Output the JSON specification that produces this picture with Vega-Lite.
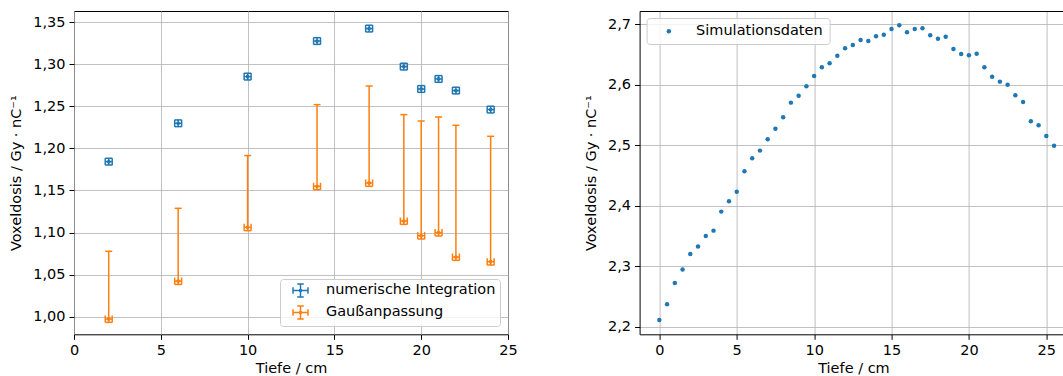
{
  "$schema": "https://vega.github.io/schema/vega-lite/v6.json",
  "background": "white",
  "padding": {"left": 8, "top": 10, "right": 0, "bottom": 0},
  "bounds": "flush",
  "spacing": 131.6,
  "resolve": {"scale": {"color": "independent"}, "legend": {"color": "independent"}},
  "config": {
    "font": "DejaVu Sans",
    "axis": {
      "labelFont": "DejaVu Sans", "titleFont": "DejaVu Sans",
      "labelFontSize": 14.5, "titleFontSize": 14.5,
      "labelColor": "#000", "titleColor": "#000", "titleFontWeight": "normal",
      "tickColor": "#000", "tickSize": 5, "tickWidth": 1, "labelPadding": 4,
      "gridColor": "#b0b0b0", "gridWidth": 0.8, "gridOpacity": 1,
      "domainColor": "#000", "domainWidth": 1, "labelFlush": false
    },
    "axisY": {"titlePadding": 9},
    "axisX": {"titlePadding": 5},
    "legend": {
      "labelFont": "DejaVu Sans", "labelFontSize": 14.5, "labelColor": "#000",
      "fillColor": "rgba(255,255,255,0.8)", "strokeColor": "#cccccc", "cornerRadius": 3,
      "padding": 6, "labelLimit": 400
    }
  },
  "hconcat": [
    {
      "width": 434,
      "height": 323.3,
      "view": {"stroke": "#000", "strokeWidth": 1},
      "data": {"values": [
        {"tiefe": 2, "reihe": "numerische Integration", "wert": 1.1843, "unten": 1.1803, "oben": 1.1883, "links": 1.8, "rechts": 2.2},
        {"tiefe": 6, "reihe": "numerische Integration", "wert": 1.2299, "unten": 1.2259, "oben": 1.2339, "links": 5.8, "rechts": 6.2},
        {"tiefe": 10, "reihe": "numerische Integration", "wert": 1.2854, "unten": 1.2814, "oben": 1.2894, "links": 9.8, "rechts": 10.2},
        {"tiefe": 14, "reihe": "numerische Integration", "wert": 1.3277, "unten": 1.3237, "oben": 1.3317, "links": 13.8, "rechts": 14.2},
        {"tiefe": 17, "reihe": "numerische Integration", "wert": 1.3425, "unten": 1.3385, "oben": 1.3465, "links": 16.8, "rechts": 17.2},
        {"tiefe": 19, "reihe": "numerische Integration", "wert": 1.2973, "unten": 1.2933, "oben": 1.3013, "links": 18.8, "rechts": 19.2},
        {"tiefe": 20, "reihe": "numerische Integration", "wert": 1.2707, "unten": 1.2667, "oben": 1.2747, "links": 19.8, "rechts": 20.2},
        {"tiefe": 21, "reihe": "numerische Integration", "wert": 1.2826, "unten": 1.2786, "oben": 1.2866, "links": 20.8, "rechts": 21.2},
        {"tiefe": 22, "reihe": "numerische Integration", "wert": 1.2688, "unten": 1.2648, "oben": 1.2728, "links": 21.8, "rechts": 22.2},
        {"tiefe": 24, "reihe": "numerische Integration", "wert": 1.2462, "unten": 1.2422, "oben": 1.2502, "links": 23.8, "rechts": 24.2},
        {"tiefe": 2, "reihe": "Gaußanpassung", "wert": 0.9972, "unten": 0.9932, "oben": 1.0777, "links": 1.8, "rechts": 2.2},
        {"tiefe": 6, "reihe": "Gaußanpassung", "wert": 1.0423, "unten": 1.0383, "oben": 1.1288, "links": 5.8, "rechts": 6.2},
        {"tiefe": 10, "reihe": "Gaußanpassung", "wert": 1.1062, "unten": 1.1022, "oben": 1.1915, "links": 9.8, "rechts": 10.2},
        {"tiefe": 14, "reihe": "Gaußanpassung", "wert": 1.155, "unten": 1.151, "oben": 1.2521, "links": 13.8, "rechts": 14.2},
        {"tiefe": 17, "reihe": "Gaußanpassung", "wert": 1.1589, "unten": 1.1549, "oben": 1.2742, "links": 16.8, "rechts": 17.2},
        {"tiefe": 19, "reihe": "Gaußanpassung", "wert": 1.1137, "unten": 1.1097, "oben": 1.2402, "links": 18.8, "rechts": 19.2},
        {"tiefe": 20, "reihe": "Gaußanpassung", "wert": 1.0963, "unten": 1.0923, "oben": 1.2326, "links": 19.8, "rechts": 20.2},
        {"tiefe": 21, "reihe": "Gaußanpassung", "wert": 1.0999, "unten": 1.0959, "oben": 1.2374, "links": 20.8, "rechts": 21.2},
        {"tiefe": 22, "reihe": "Gaußanpassung", "wert": 1.0709, "unten": 1.0669, "oben": 1.2275, "links": 21.8, "rechts": 22.2},
        {"tiefe": 24, "reihe": "Gaußanpassung", "wert": 1.0654, "unten": 1.0614, "oben": 1.2144, "links": 23.8, "rechts": 24.2}
      ]},
      "layer": [
        {
          "mark": {"type": "rule", "strokeWidth": 1.5},
          "encoding": {
            "x": {"field": "tiefe", "type": "quantitative", "title": "Tiefe / cm",
                  "scale": {"domain": [0, 25], "nice": false, "zero": false},
                  "axis": {"values": [0, 5, 10, 15, 20, 25], "grid": true, "domain": false}},
            "y": {"field": "unten", "type": "quantitative", "title": "Voxeldosis / Gy · nC⁻¹",
                  "scale": {"domain": [0.979, 1.3634], "nice": false, "zero": false},
                  "axis": {"values": [1.0, 1.05, 1.1, 1.15, 1.2, 1.25, 1.3, 1.35], "grid": true, "domain": false,
                           "labelExpr": "replace(format(datum.value, '.2f'), '.', ',')"}},
            "y2": {"field": "oben"},
            "color": {"field": "reihe", "type": "nominal",
                      "scale": {"domain": ["numerische Integration", "Gaußanpassung"], "range": ["#1f77b4", "#ff7f0e"]},
                      "legend": {"title": null, "orient": "bottom-right", "offset": 8, "padding": 4,
                                 "symbolType": "M-1.15,0H1.15M-1.15,-0.5V0.5M1.15,-0.5V0.5M0,-1V1M-0.5,-1H0.5M-0.5,1H0.5M-0.1,-0.1H0.1V0.1H-0.1Z",
                                 "symbolSize": 169, "symbolStrokeWidth": 1.5, "symbolFillColor": "transparent",
                                 "symbolOffset": 9, "labelOffset": 18, "rowPadding": 3}}
          }
        },
        {
          "mark": {"type": "rule", "strokeWidth": 1.5},
          "encoding": {
            "x": {"field": "links", "type": "quantitative", "title": "Tiefe / cm"},
            "x2": {"field": "rechts"},
            "y": {"field": "wert", "type": "quantitative", "title": "Voxeldosis / Gy · nC⁻¹"},
            "color": {"field": "reihe", "type": "nominal", "legend": null}
          }
        },
        {
          "mark": {"type": "tick", "orient": "horizontal", "size": 7, "thickness": 1.5, "opacity": 1},
          "encoding": {
            "x": {"field": "tiefe", "type": "quantitative", "title": "Tiefe / cm"},
            "y": {"field": "oben", "type": "quantitative", "title": "Voxeldosis / Gy · nC⁻¹"},
            "color": {"field": "reihe", "type": "nominal", "legend": null}
          }
        },
        {
          "mark": {"type": "tick", "orient": "horizontal", "size": 7, "thickness": 1.5, "opacity": 1},
          "encoding": {
            "x": {"field": "tiefe", "type": "quantitative", "title": "Tiefe / cm"},
            "y": {"field": "unten", "type": "quantitative", "title": "Voxeldosis / Gy · nC⁻¹"},
            "color": {"field": "reihe", "type": "nominal", "legend": null}
          }
        },
        {
          "mark": {"type": "tick", "orient": "vertical", "size": 7, "thickness": 1.5, "opacity": 1},
          "encoding": {
            "x": {"field": "links", "type": "quantitative", "title": "Tiefe / cm"},
            "y": {"field": "wert", "type": "quantitative", "title": "Voxeldosis / Gy · nC⁻¹"},
            "color": {"field": "reihe", "type": "nominal", "legend": null}
          }
        },
        {
          "mark": {"type": "tick", "orient": "vertical", "size": 7, "thickness": 1.5, "opacity": 1},
          "encoding": {
            "x": {"field": "rechts", "type": "quantitative", "title": "Tiefe / cm"},
            "y": {"field": "wert", "type": "quantitative", "title": "Voxeldosis / Gy · nC⁻¹"},
            "color": {"field": "reihe", "type": "nominal", "legend": null}
          }
        },
        {
          "mark": {"type": "point", "filled": true, "size": 14, "opacity": 1},
          "encoding": {
            "x": {"field": "tiefe", "type": "quantitative", "title": "Tiefe / cm"},
            "y": {"field": "wert", "type": "quantitative", "title": "Voxeldosis / Gy · nC⁻¹"},
            "color": {"field": "reihe", "type": "nominal", "legend": null}
          }
        }
      ]
    },
    {
      "width": 427.7,
      "height": 323.3,
      "view": {"stroke": null},
      "data": {"values": [
        {"tiefe": 0, "dosis": 2.2110}, {"tiefe": 0.5, "dosis": 2.2369}, {"tiefe": 1, "dosis": 2.2721},
        {"tiefe": 1.5, "dosis": 2.2942}, {"tiefe": 2, "dosis": 2.3200}, {"tiefe": 2.5, "dosis": 2.3322},
        {"tiefe": 3, "dosis": 2.3498}, {"tiefe": 3.5, "dosis": 2.3586}, {"tiefe": 4, "dosis": 2.3900},
        {"tiefe": 4.5, "dosis": 2.4071}, {"tiefe": 5, "dosis": 2.4230}, {"tiefe": 5.5, "dosis": 2.4566},
        {"tiefe": 6, "dosis": 2.4781}, {"tiefe": 6.5, "dosis": 2.4908}, {"tiefe": 7, "dosis": 2.5095},
        {"tiefe": 7.5, "dosis": 2.5271}, {"tiefe": 8, "dosis": 2.5458}, {"tiefe": 8.5, "dosis": 2.5701},
        {"tiefe": 9, "dosis": 2.5816}, {"tiefe": 9.5, "dosis": 2.5970}, {"tiefe": 10, "dosis": 2.6141},
        {"tiefe": 10.5, "dosis": 2.6284}, {"tiefe": 11, "dosis": 2.6350}, {"tiefe": 11.5, "dosis": 2.6477},
        {"tiefe": 12, "dosis": 2.6598}, {"tiefe": 12.5, "dosis": 2.6653}, {"tiefe": 13, "dosis": 2.6736},
        {"tiefe": 13.5, "dosis": 2.6719}, {"tiefe": 14, "dosis": 2.6796}, {"tiefe": 14.5, "dosis": 2.6824},
        {"tiefe": 15, "dosis": 2.6918}, {"tiefe": 15.5, "dosis": 2.6978}, {"tiefe": 16, "dosis": 2.6863},
        {"tiefe": 16.5, "dosis": 2.6918}, {"tiefe": 17, "dosis": 2.6929}, {"tiefe": 17.5, "dosis": 2.6813},
        {"tiefe": 18, "dosis": 2.6758}, {"tiefe": 18.5, "dosis": 2.6791}, {"tiefe": 19, "dosis": 2.6587},
        {"tiefe": 19.5, "dosis": 2.6505}, {"tiefe": 20, "dosis": 2.6483}, {"tiefe": 20.5, "dosis": 2.6510},
        {"tiefe": 21, "dosis": 2.6284}, {"tiefe": 21.5, "dosis": 2.6130}, {"tiefe": 22, "dosis": 2.6048},
        {"tiefe": 22.5, "dosis": 2.5998}, {"tiefe": 23, "dosis": 2.5822}, {"tiefe": 23.5, "dosis": 2.5712},
        {"tiefe": 24, "dosis": 2.5392}, {"tiefe": 24.5, "dosis": 2.5326}, {"tiefe": 25, "dosis": 2.5150},
        {"tiefe": 25.5, "dosis": 2.4990}
      ]},
      "resolve": {"axis": {"x": "independent"}},
      "layer": [
        {
          "mark": {"type": "point", "filled": true, "size": 20, "opacity": 1},
          "encoding": {
            "x": {"field": "tiefe", "type": "quantitative", "title": "Tiefe / cm",
                  "scale": {"domain": [-1.275, 26.355], "nice": false, "zero": false},
                  "axis": {"values": [0, 5, 10, 15, 20, 25], "grid": true, "domain": true}},
            "y": {"field": "dosis", "type": "quantitative", "title": "Voxeldosis / Gy · nC⁻¹",
                  "scale": {"domain": [2.1873, 2.7215], "nice": false, "zero": false},
                  "axis": {"values": [2.2, 2.3, 2.4, 2.5, 2.6, 2.7], "grid": true, "domain": true,
                           "labelExpr": "replace(format(datum.value, '.1f'), '.', ',')"}},
            "color": {"datum": "Simulationsdaten",
                      "scale": {"range": ["#1f77b4"]},
                      "legend": {"title": null, "orient": "top-left", "offset": 7,
                                 "symbolType": "circle", "symbolSize": 20,
                                 "symbolOffset": 9, "labelOffset": 20}}
          }
        },
        {
          "mark": {"type": "point", "filled": true, "size": 20, "opacity": 0},
          "encoding": {
            "x": {"field": "tiefe", "type": "quantitative",
                  "axis": {"orient": "top", "labels": false, "ticks": false, "grid": false, "domain": true, "title": null}},
            "y": {"field": "dosis", "type": "quantitative"}
          }
        }
      ]
    }
  ]
}
